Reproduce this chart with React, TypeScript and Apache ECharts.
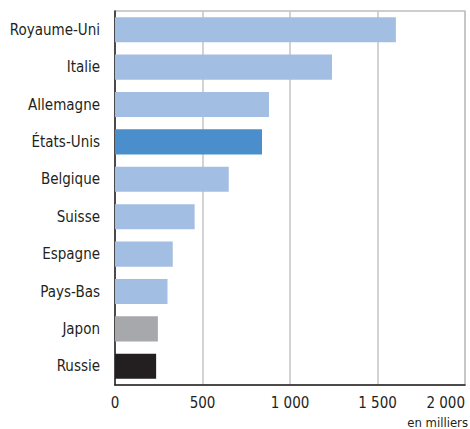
import React, { useEffect, useRef } from "react";
import * as echarts from "echarts";

const categories = ["Royaume-Uni", "Italie", "Allemagne", "États-Unis", "Belgique", "Suisse", "Espagne", "Pays-Bas", "Japon", "Russie"];
const values = [1605, 1240, 880, 840, 650, 455, 330, 300, 245, 235];
const barColors = ["#a3bee3", "#a3bee3", "#a3bee3", "#4a8fcc", "#a3bee3", "#a3bee3", "#a3bee3", "#a3bee3", "#a7a8ab", "#231f20"];
const xTicks = [0, 500, 1000, 1500, 2000];
const unitLabel = "en milliers";

const FONT = "'DejaVu Sans Condensed', 'Liberation Sans', sans-serif";

export default function App() {
  const ref = useRef<HTMLDivElement>(null);
  useEffect(() => {
    if (!ref.current) return;
    const chart = echarts.init(ref.current, null, { renderer: "svg" });
    chart.setOption({
      animation: false,
      grid: {
        left: 115, right: 5, top: 11, bottom: 44,
        outerBoundsMode: "none", containLabel: false,
        show: true, borderColor: "#bdbdbd", borderWidth: 1.5,
      },
      xAxis: {
        type: "value",
        min: xTicks[0],
        max: xTicks[xTicks.length - 1],
        interval: 500,
        axisLine: { show: true, lineStyle: { color: "#231f20", width: 1.5 } },
        axisTick: { show: false },
        splitLine: { show: true, lineStyle: { color: "#c4c4c4", width: 1.5 } },
        axisLabel: {
          fontFamily: FONT,
          fontSize: 15,
          color: "#231f20",
          margin: 10,
          alignMaxLabel: "right",
          formatter: (v: number) => (v >= 1000 ? `${Math.floor(v / 1000)} ${String(v % 1000).padStart(3, "0")}` : String(v)),
        },
      },
      yAxis: {
        type: "category",
        data: categories,
        inverse: true,
        axisLine: { show: true, onZero: false, lineStyle: { color: "#231f20", width: 1.5 } },
        axisTick: { show: false },
        axisLabel: { fontFamily: FONT, fontSize: 15, color: "#231f20", margin: 15 },
      },
      graphic: [
        {
          type: "text",
          right: 2,
          top: 416,
          style: { text: unitLabel, fontFamily: FONT, fontSize: 13, fill: "#231f20" },
        },
      ],
      series: [
        {
          type: "bar",
          barWidth: "67%",
          data: values.map((v, i) => ({ value: v, itemStyle: { color: barColors[i] } })),
        },
      ],
    });
    return () => chart.dispose();
  }, []);
  return <div ref={ref} style={{ position: "absolute", left: 0, top: 0, width: 470, height: 429 }} />;
}
